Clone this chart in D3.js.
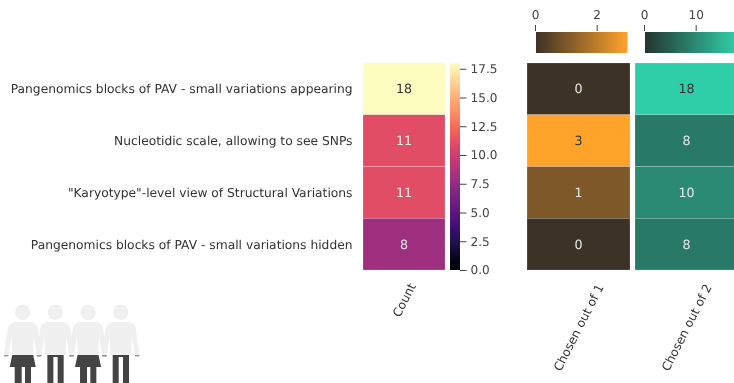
<!DOCTYPE html>
<html>
<head>
<meta charset="utf-8">
<script src="https://cdn.jsdelivr.net/npm/d3@7"></script>
<style>
html, body { margin: 0; padding: 0; background: #fff; overflow: hidden; }
svg { display: block; filter: blur(0.45px); }
text { font-family: "DejaVu Sans", sans-serif; text-rendering: geometricPrecision; }
.axis path { display: none; }
.axis line { stroke: #444; stroke-width: 1; }
.axis text { font-size: 12.1px; fill: #444; }
</style>
</head>
<body>
<svg width="734" height="383"></svg>
<script>
// categories and series
const rowLabels = [
  "Pangenomics blocks of PAV - small variations appearing",
  "Nucleotidic scale, allowing to see SNPs",
  "\"Karyotype\"-level view of Structural Variations",
  "Pangenomics blocks of PAV - small variations hidden"
];
const counts = [18, 11, 11, 8];
const chosenOutOf1 = [0, 3, 1, 0];
const chosenOutOf2 = [18, 8, 10, 8];
const countTicks = [0, 2.5, 5, 7.5, 10, 12.5, 15, 17.5];
const chosen1Ticks = [0, 2];
const chosen2Ticks = [0, 10];
const figures = ["f", "m", "f", "m"];

const svg = d3.select("svg");
const top_ = 63, bottom = 270;
const fontSize = 12.28;

var y = d3.scaleBand().domain(d3.range(rowLabels.length)).range([top_, bottom]);

const magma = d3.scaleSequential(d3.interpolateMagma).domain([0, 18]);
const orange = d3.scaleLinear().domain([0, 3]).range(["#3d3226", "#ffa32b"]);
const green = d3.scaleLinear().domain([0, 18]).range(["#24352f", "#2ecfa8"]);

// row labels
svg.append("g").selectAll("text").data(rowLabels).enter().append("text")
  .attr("x", 352.5)
  .attr("y", (d, i) => y(i) + y.bandwidth() / 2)
  .attr("dy", "0.36em")
  .attr("text-anchor", "end")
  .attr("font-size", fontSize)
  .attr("fill", "#333")
  .text(d => d);

function heatColumn(values, color, name, x0, x1, labelY) {
  var x = d3.scaleBand().domain([name]).range([x0, x1]);
  var g = svg.append("g");
  g.selectAll("rect").data(values).enter().append("rect")
    .attr("x", x(name))
    .attr("y", (d, i) => y(i))
    .attr("width", x.bandwidth())
    .attr("height", y.bandwidth())
    .attr("fill", d => color(d))
    .attr("stroke", "#fff")
    .attr("stroke-opacity", 0.3)
    .attr("stroke-width", 0.6);
  g.selectAll("text.cell").data(values).enter().append("text")
    .attr("class", "cell")
    .attr("x", x(name) + x.bandwidth() / 2)
    .attr("y", (d, i) => y(i) + y.bandwidth() / 2)
    .attr("dy", "0.36em")
    .attr("text-anchor", "middle")
    .attr("font-size", fontSize + 0.4)
    .attr("fill", d => d3.hcl(color(d)).l > 60 ? "#333" : "#e8e8e8")
    .text(d => d);
  // rotated column label, centred under the column
  var cx = x(name) + x.bandwidth() / 2;
  g.append("text")
    .attr("transform", "translate(" + cx + "," + labelY + ") rotate(-63)")
    .attr("dy", "0.36em")
    .attr("text-anchor", "middle")
    .attr("font-size", 12.1)
    .attr("fill", "#333")
    .text(name);
}

heatColumn(counts, magma, "Count", 363, 445, 300);
heatColumn(chosenOutOf1, orange, "Chosen out of 1", 527, 630, 327.5);
heatColumn(chosenOutOf2, green, "Chosen out of 2", 635, 738, 327.5);

// gradients for the colorbars
var defs = svg.append("defs");
function gradient(id, scale, dmax, vertical) {
  var grad = defs.append("linearGradient").attr("id", id)
    .attr("x1", 0).attr("y1", vertical ? 1 : 0)
    .attr("x2", vertical ? 0 : 1).attr("y2", 0);
  grad.selectAll("stop").data(d3.range(0, 1.001, 0.05)).enter().append("stop")
    .attr("offset", d => d)
    .attr("stop-color", d => scale(d * dmax));
}
gradient("gradCount", magma, 18, true);
gradient("gradOne", orange, 3, false);
gradient("gradTwo", green, 18, false);

// count colorbar
var cbY = d3.scaleLinear().domain([0, 18]).range([bottom, top_]);
svg.append("rect").attr("x", 450).attr("y", top_).attr("width", 10)
  .attr("height", bottom - top_).attr("fill", "url(#gradCount)");
svg.append("g").attr("class", "axis")
  .attr("transform", "translate(460,0)")
  .call(d3.axisRight(cbY).tickValues(countTicks).tickFormat(d3.format(".1f")).tickSize(6.5).tickPadding(4));

// top colorbars
function topBar(id, x0, x1, dmax, ticks) {
  var x = d3.scaleLinear().domain([0, dmax]).range([x0, x1]);
  svg.append("rect").attr("x", x0 + 1).attr("y", 32).attr("width", x1 - x0 - 1)
    .attr("height", 21).attr("fill", "url(#" + id + ")");
  svg.append("g").attr("class", "axis")
    .attr("transform", "translate(0,31)")
    .call(d3.axisTop(x).tickValues(ticks).tickFormat(d3.format("d")).tickSize(6).tickPadding(6));
}
topBar("gradOne", 535, 627.5, 3, chosen1Ticks);
topBar("gradTwo", 644, 737, 18, chosen2Ticks);

// little people icon, bottom left
var people = svg.append("g");
var px = d3.scaleLinear().domain([0, 3]).range([22.7, 120.7]);
const skin = "#f0f0f0", cloth = "#444";
figures.forEach(function(kind, i) {
  var g = people.append("g").attr("transform", "translate(" + px(i) + ",0)");
  g.append("path")
    .attr("fill", skin)
    .attr("d", "M-19,355 L-15,328 Q-14,323 -8,322 L8,322 Q14,323 15,328 L19,355 L14,355 L11,336 L10.5,355 L-10.5,355 L-11,336 L-14,355 Z");
  g.append("circle").attr("cy", 312.3).attr("r", 7.7).attr("fill", skin);
  // grey hand tips
  g.append("path").attr("fill", "#999").attr("d", "M-19,355 L-14,355 L-14.5,356.5 L-18.5,356.5 Z M14,355 L19,355 L18.5,356.5 L14.5,356.5 Z");
  if (kind == "f") {
    g.append("path").attr("fill", cloth)
      .attr("d", "M-10.5,355 L10.5,355 L13,367 L8.3,367 L8.3,383 L2.3,383 L2.3,367 L-1,367 L-1,383 L-8,383 L-8,367 L-13,367 Z");
  } else {
    g.append("path").attr("fill", cloth)
      .attr("d", "M-8,355 L8.3,355 L8.3,383 L2.3,383 L2.3,357 L-2,357 L-2,383 L-8,383 Z");
  }
});
</script>
</body>
</html>
